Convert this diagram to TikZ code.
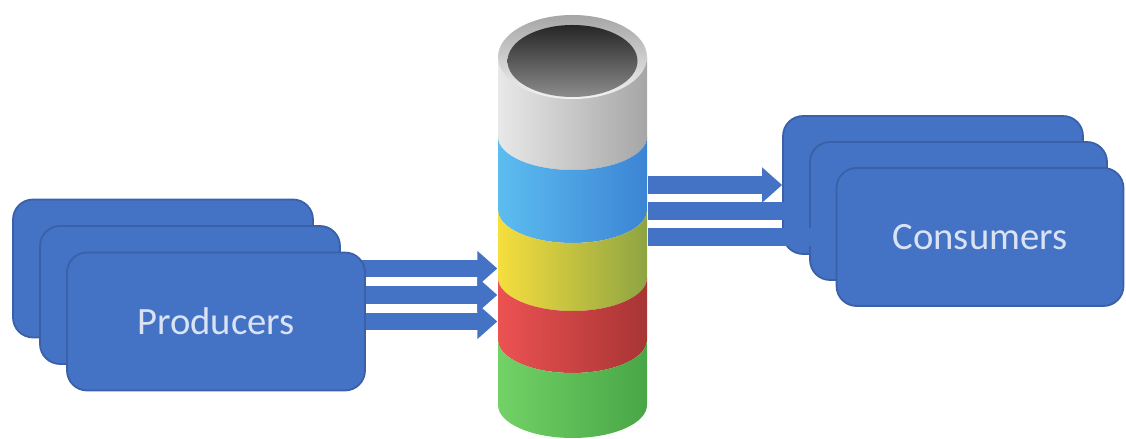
\documentclass[tikz,border=0pt]{standalone}
\usepackage{fontspec}
\setmainfont{Carlito}
\usetikzlibrary{arrows.meta}
\pgfdeclarelayer{background}
\pgfsetlayers{background,main}

\definecolor{kblue}{HTML}{4472C4}
\definecolor{kedge}{HTML}{3A60A8}
\definecolor{ktext}{HTML}{DAE3F3}

\tikzset{
    box/.style={draw=kedge,fill=kblue,line width=0.5pt,rounded corners=2mm,
        minimum width=3cm,minimum height=1.38cm,inner sep=0pt,
        text=ktext,font=\fontsize{11}{13}\selectfont},
    flow/.style={draw=kblue,line width=1.75mm,-{Triangle[length=2mm,width=3.4mm]}}
}

\begin{document}
\begin{tikzpicture}
    \useasboundingbox (0,0) rectangle (11.26,4.39);
    % the log itself, only a frame for the arrows
    \node[minimum width=1.49cm,minimum height=4.2cm,inner sep=0pt] (log) at (5.725,2.13) {};

    % producers
    \node[box] (prod1) at (1.63,1.705) {};
    \node[box] (prod2) at (1.90,1.44) {};
    \node[box,minimum width=2.98cm] (prod3) at (2.16,1.175) {Producers};
    \begin{pgfonlayer}{background}
        \foreach \p in {prod1,prod2,prod3}{
            \draw[flow] (\p.east)--(log.west |- \p.east);
        }
    \end{pgfonlayer}

    % stacked segments, light on the left and dark on the right
    \foreach \t/\b/\lc/\mc/\rc in {3.82/3.02/E8E8E8/D6D6D6/A6A6A6,
                                   3.02/2.29/5CBDF0/56B2EC/3C84D4,
                                   2.29/1.61/F6DE3E/E2D23E/8EA442,
                                   1.61/0.99/EC5252/DC4A4A/A83434,
                                   0.99/0.34/72D266/64C65A/48A646}{
        \definecolor{l}{HTML}{\lc}\definecolor{m}{HTML}{\mc}\definecolor{r}{HTML}{\rc}
        \shade[left color=l,middle color=m,right color=r]
            (4.98,\t) arc[start angle=180,end angle=360,x radius=0.745,y radius=0.33]
            --(6.47,\b) arc[start angle=0,end angle=-180,x radius=0.745,y radius=0.33]--cycle;
    }
    % open top
    \shade[top color=gray!70,bottom color=gray!10] (5.725,3.82) ellipse[x radius=0.745,y radius=0.42];
    \shade[top color=black!85,bottom color=black!45] (5.725,3.78) ellipse[x radius=0.65,y radius=0.36];

    % consumers
    \node[box] (cons1) at (9.33,2.54) {};
    \node[box,minimum width=2.97cm] (cons2) at (9.585,2.28) {};
    \node[box,minimum width=2.87cm] (cons3) at (9.80,2.02) {Consumers};
    \foreach \c in {cons1,cons2,cons3}{
        \draw[flow] (log.east |- \c.west)--(\c.west);
    }
\end{tikzpicture}
\end{document}
